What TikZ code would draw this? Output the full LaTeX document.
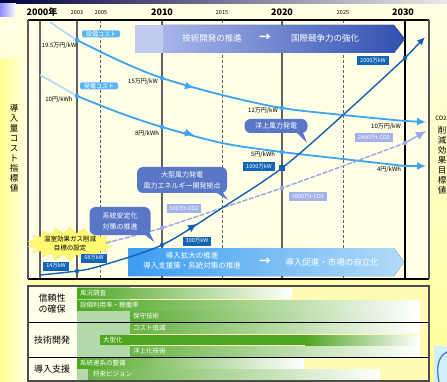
\documentclass[tikz,border=0pt]{standalone}
\usepackage{fontspec}
\setmainfont{Noto Sans CJK JP}
\usetikzlibrary{shapes.symbols,arrows.meta}
\definecolor{cLight}{HTML}{3EA5F0}
\definecolor{cDark}{HTML}{1562B4}
\definecolor{cLav}{HTML}{98A8E6}
\definecolor{cBox}{HTML}{1466B4}
\definecolor{cLavBox}{HTML}{A4B2EA}
\definecolor{cLightBox}{HTML}{5CB6F6}
\definecolor{cCall}{HTML}{5A76C6}
\definecolor{cGreen}{HTML}{4DA620}
\definecolor{cPale}{HTML}{B2D8AC}
\definecolor{cBand}{HTML}{3050B0}
\begin{document}
\begin{tikzpicture}[x=1pt,y=-1pt,
  every node/.style={inner sep=0pt, outer sep=0pt},
  yrbig/.style={font=\fontsize{9}{9}\selectfont\bfseries},
  yrsmall/.style={font=\fontsize{5.5}{6}\selectfont},
  vsolid/.style={draw=black!62, line width=1.6pt},
  vdashed/.style={draw=black!62, line width=0.8pt, dash pattern=on 3pt off 2pt},
  costcurve/.style={draw=cLight, line width=1.8pt},
  costfade/.style={draw=cLight!40, line width=1.8pt},
  instcurve/.style={draw=cDark, line width=1.4pt},
  co2curve/.style={draw=cLav, line width=1.4pt, dash pattern=on 5pt off 1.5pt},
  vlabel/.style={font=\fontsize{6}{6.5}\selectfont},
  darkbox/.style={fill=cBox, text=white, font=\fontsize{5.5}{6}\selectfont, minimum height=9pt, inner xsep=3pt},
  lavbox/.style={fill=cLavBox, text=white, font=\fontsize{5.5}{6}\selectfont, minimum height=9pt, inner xsep=3pt},
  lightbox/.style={fill=cLightBox, text=white, rounded corners=1.5pt, font=\fontsize{6}{6}\selectfont, minimum height=7pt, inner xsep=4pt},
  callbox/.style={fill=cCall, text=white, rounded corners=6pt, align=center, font=\fontsize{7}{11}\selectfont},
  bandtext/.style={text=white, font=\fontsize{8.5}{9}\selectfont},
  bartext/.style={text=white, font=\fontsize{6.5}{7}\selectfont, anchor=west},
  rowlabel/.style={font=\fontsize{9}{11}\selectfont, align=center},
  sidetext/.style={font=\fontsize{8.5}{10}\selectfont, align=center}
]
\useasboundingbox (0,0) rectangle (447,382);
% background
\fill[top color=white!90!yellow, bottom color=yellow!40!white] (0,0) rectangle (447,382);
\fill[left color=yellow!45!white, right color=yellow!8!white] (0,60) rectangle (28,382);
\fill[left color=black!75!blue, right color=black!8] (0,0) rectangle (447,4);
\fill[left color=blue!45!white, right color=white] (0,4) rectangle (16,17);
% logo bit
\fill[cyan!18] (434,346) rectangle (447,382);
\draw[cDark!80, line width=1.3pt] (447,352) .. controls (438,356) and (436,368) .. (439,382);

% chart area
\fill[yellow!10!white] (28,20) rectangle (429,279);

% year labels
\node[yrbig] (t2000) at (42,12) {2000年};
\node[yrsmall] (t2003) at (77,13) {2003};
\node[yrsmall] (t2005) at (101,13) {2005};
\node[yrbig] (t2010) at (162,12) {2010};
\node[yrsmall] (t2015) at (222,13) {2015};
\node[yrbig] (t2020) at (282,12) {2020};
\node[yrsmall] (t2025) at (343,13) {2025};
\node[yrbig] (t2030) at (403,12) {2030};

% vertical lines
\draw[vsolid] (40,20) -- (40,279);
\draw[vsolid] (77,20) -- (77,279);
\draw[vdashed] (100,20) -- (100,279);
\draw[vsolid] (162,20) -- (162,279);
\draw[vdashed] (222,20) -- (222,279);
\draw[vsolid] (282,20) -- (282,279);
\draw[vdashed] (343,20) -- (343,279);
\draw[draw=black, line width=2.6pt] (405,20) -- (405,279);

% top band
\fill[cLav!60!white] (135,25) rectangle (163,53);
\fill[left color=cLav!85!white, right color=cBand] (163,25) -- (394,25) -- (405,39) -- (394,53) -- (163,53) -- cycle;
\node[bandtext] (b1) at (212,38) {技術開発の推進};
\node[bandtext, font=\fontsize{12}{12}\selectfont\bfseries] (b2) at (265,38) {→};
\node[bandtext] (b3) at (325,38) {国際競争力の強化};

% bottom band
\fill[left color=cLight!95!blue, right color=cLight!40!white] (128,248) -- (394,248) -- (404,262) -- (394,276) -- (128,276) -- cycle;
\node[bandtext, font=\fontsize{7.5}{10}\selectfont, align=center] (b4) at (192,261) {導入拡大の推進\\導入支援策・系統対策の推進};
\node[bandtext, font=\fontsize{12}{12}\selectfont\bfseries] (b5) at (265,262) {→};
\node[bandtext] (b6) at (332,262) {導入促進・市場の自立化};

% frame
\draw[black, line width=1.2pt] (28,20) -- (429,20);
\draw[black, line width=1.2pt] (28,279) -- (429,279);
\draw[black!65, line width=2.4pt] (28,20) -- (28,279);
\draw[black!65, line width=2.4pt] (429,20) -- (429,279);

% star
\node[starburst, starburst points=18, starburst point height=6pt, random starburst=0,
      fill=yellow!55!white, draw=yellow!70!orange!60, line width=0.3pt,
      minimum width=82pt, minimum height=28pt, align=center,
      font=\fontsize{6.5}{9}\selectfont] (star) at (70,244) {温室効果ガス削減\\目標の設定};

% cost curve A
\draw[costfade] plot[smooth] coordinates {(50,22) (63,31) (77,40)};
\draw[costcurve] plot[smooth, tension=0.55] coordinates {(77,40) (120,61) (162,78) (222,95) (282,108) (343,115) (405,121)};
\draw[costcurve, -{Latex[length=9pt,width=8pt]}] (405,121) -- (426,122);
\draw[cLight, line width=1.8pt, -{Latex[length=9pt,width=8pt]}] (184,85.2) -- (194,88);
\foreach \p in {(77,40),(162,78),(282,108)} \fill[cLight] \p circle (2.3);
% cost curve B
\draw[costfade] plot[smooth] coordinates {(40,75) (58,85) (77,96)};
\draw[costcurve] plot[smooth, tension=0.55] coordinates {(77,96) (120,113) (162,127) (222,143) (282,152) (343,159) (405,166)};
\draw[costcurve, -{Latex[length=9pt,width=8pt]}] (405,166) -- (426,166);
\draw[cLight, line width=1.8pt, -{Latex[length=9pt,width=8pt]}] (184,132.3) -- (194,135);
\foreach \p in {(77,96),(162,127),(282,152)} \fill[cLight] \p circle (2.3);

% CO2 line
\draw[co2curve] plot[smooth, tension=0.4] coordinates {(106,243) (162,228) (222,208) (282,188) (343,166) (405,143)};
\draw[cLav, line width=1.4pt, -{Latex[length=10pt,width=9pt]}] (405,143) -- (426,131);
\foreach \p in {(162,228),(282,188),(405,143)} \fill[cLav] \p circle (2.3);

% installed capacity curve
\draw[instcurve] plot[smooth, tension=0.5] coordinates {(40,275) (77,271) (100,266) (162,245) (222,208) (282,168) (343,115) (405,58)};
\draw[instcurve, -{Latex[length=8pt,width=7pt]}] (405,58) -- (425,37);
\draw[cDark, line width=1.4pt, -{Latex[length=9pt,width=8pt]}] (188,229.5) -- (197,223.8);
\foreach \p in {(77,271),(162,245),(405,58)} \fill[cDark] \p circle (2.2);
\fill[cDark] (279,165) rectangle (285,171);

% light callout boxes
\node[lightbox] (lc1) at (101,34) {設備コスト};
\node[lightbox] (lc2) at (99,86) {発電コスト};

% curve labels
\node[vlabel] (l1) at (59,46) {19.5万円/kW};
\node[vlabel] (l2) at (59,100) {10円/kWh};
\node[vlabel] (l3) at (143,82) {15万円/kW};
\node[vlabel] (l4) at (147,134) {8円/kWh};
\node[vlabel] (l5) at (263,111) {12万円/kW};
\node[vlabel] (l6) at (263,155) {5円/kWh};
\node[vlabel] (l7) at (386,127) {10万円/kW};
\node[vlabel] (l8) at (389,170) {4円/kWh};

% dark boxes
\node[darkbox] (d1) at (56,266) {14万kW};
\node[darkbox] (d2) at (94,258) {68万kW};
\node[darkbox] (d3) at (197,241) {300万kW};
\node[darkbox] (d4) at (259,167) {1000万kW};
\node[darkbox] (d5) at (373,61) {2000万kW};

% lavender boxes
\node[lavbox] (v1) at (184,209) {500万t-CO2};
\node[lavbox] (v2) at (308,197) {1000万t-CO2};
\node[lavbox] (v3) at (374,138) {2400万t-CO2};

% callouts
\fill[cCall] (140,231) -- (149,231) -- (154,242) -- cycle;
\node[callbox, minimum width=61pt, minimum height=28pt] (c1) at (120,221) {系統安定化\\対策の推進};
\fill[cCall] (212,190) -- (221,190) -- (228,200) -- cycle;
\node[callbox, minimum width=90pt, minimum height=26pt] (c2) at (182,180) {大型風力発電\\風力エネルギー開発拠点};
\fill[cCall] (294,130) -- (302,130) -- (307,143) -- cycle;
\node[callbox, rounded corners=6pt, minimum width=63pt, minimum height=14pt] (c3) at (276,126) {洋上風力発電};

% side texts
\node[sidetext] (ls) at (14,148) {導\\入\\量\\コ\\ス\\ト\\指\\標\\値};
\node[font=\fontsize{6}{6}\selectfont] (rco) at (441,118) {CO2};
\node[sidetext] (rs) at (442,160) {削\\減\\効\\果\\目\\標\\値};

% table
\fill[white!92!yellow] (28,286) rectangle (77,381);
\fill[yellow!30!white] (77,286) rectangle (429,381);
\fill[cPale] (77,286) rectangle (130,381);
\fill[left color=cGreen, right color=white] (77,288) rectangle (292,298);
\fill[left color=cGreen, right color=white] (77,300) rectangle (420,310);
\fill[left color=cGreen!90, right color=white] (130,311) rectangle (420,321);
\fill[left color=cGreen!85, right color=white] (130,323) rectangle (420,333);
\fill[cGreen] (100,335) rectangle (305,345);
\fill[left color=cGreen, right color=white] (305,335) rectangle (420,345);
\fill[left color=cGreen!85, right color=white] (130,346) rectangle (420,356);
\fill[left color=cGreen, right color=white] (77,358) rectangle (304,368);
\fill[left color=cGreen!85, right color=white] (88,369) rectangle (380,379);
\node[bartext] (r1) at (80,293) {風況調査};
\node[bartext] (r2) at (80,305) {設備利用率・稼働率};
\node[bartext] (r3) at (133,316) {保守技術};
\node[bartext] (r4) at (133,328) {コスト低減};
\node[bartext] (r5) at (103,340) {大型化};
\node[bartext] (r6) at (133,351) {洋上化技術};
\node[bartext] (r7) at (80,363) {系統連系の整備};
\node[bartext] (r8) at (93,374) {将来ビジョン};
\draw[black, line width=1pt] (28,322) -- (429,322);
\draw[black, line width=1pt] (28,357) -- (429,357);
\draw[black!70, line width=2pt] (28,286) rectangle (429,381);
\node[rowlabel] (h1) at (52,304) {信頼性\\の確保};
\node[rowlabel] (h2) at (52,340) {技術開発};
\node[rowlabel] (h3) at (52,369) {導入支援};
\end{tikzpicture}
\end{document}
